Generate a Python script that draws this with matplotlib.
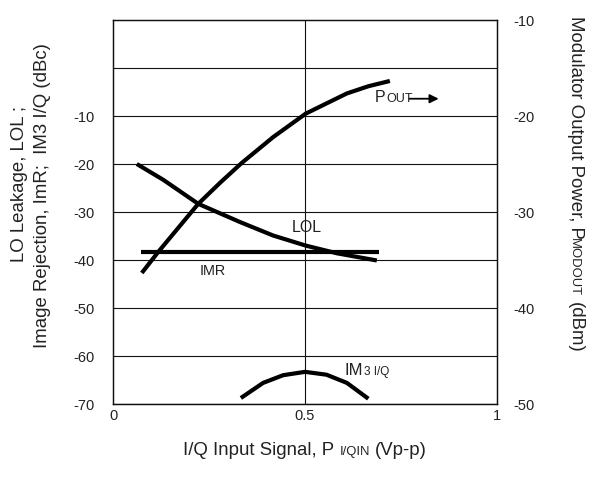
import matplotlib
matplotlib.use('Agg')
import matplotlib.pyplot as plt

plt.rcParams['font.family'] = ['Liberation Sans', 'DejaVu Sans']
plt.rcParams['axes.unicode_minus'] = False
TXT = '#222222'

# I/Q input signal, Vp-p
x_ticks = [0, 0.5, 1]
x_ticklabels = ['0', '0.5', '1']
left_ticks = [-70, -60, -50, -40, -30, -20, -10, 0]
left_ticklabels = ['-70', '-60', '-50', '-40', '-30', '-20', '-10', '']
right_ticks = [-50, -40, -30, -20, -10]

# LO leakage (dBc)
lol_x = [0.062, 0.131, 0.222, 0.331, 0.417, 0.502, 0.583, 0.687]
lol_y = [-20.0, -23.3, -28.3, -32.1, -34.9, -37.0, -38.6, -40.1]
# image rejection (dBc)
imr_x = [0.073, 0.693]
imr_y = [-38.3, -38.3]
# IM3 I/Q (dBc)
im3_x = [0.333, 0.391, 0.443, 0.50, 0.556, 0.609, 0.665]
im3_y = [-68.75, -65.6, -64.0, -63.3, -63.9, -65.6, -68.9]
# modulator output power (dBm, right axis)
pout_x = [0.075, 0.118, 0.170, 0.222, 0.279, 0.335, 0.417, 0.502, 0.609, 0.665, 0.721]
pout_y = [-36.35, -34.15, -31.65, -29.15, -26.95, -24.9, -22.2, -19.75, -17.65, -16.9, -16.35]

W, H = 590, 479
fig = plt.figure(figsize=(W / 100, H / 100), dpi=100)
ax = fig.add_axes([113 / W, 1 - 404 / H, 384 / W, 384 / H])
ax2 = ax.twinx()

ax.set_xlim(0, 1)
ax.set_ylim(-70, 10)
ax2.set_ylim(-50, -10)
ax.set_xticks(x_ticks)
ax.set_xticklabels(x_ticklabels)
ax.set_yticks(left_ticks)
ax.set_yticklabels(left_ticklabels)
ax2.set_yticks(right_ticks)
ax.tick_params(axis='x', length=0, pad=3.6, labelsize=10.5, labelcolor=TXT)
ax.tick_params(axis='y', length=0, pad=13, labelsize=10.5, labelcolor=TXT)
ax2.tick_params(axis='y', length=0, pad=11.5, labelsize=10.5, labelcolor=TXT)

for a in (ax, ax2):
    for s in a.spines.values():
        s.set_linewidth(0.9)
        s.set_color('#111111')

for v in left_ticks:
    ax.axhline(v, color='#111111', lw=0.8, zorder=1)
ax.axvline(0.5, color='#111111', lw=0.8, zorder=1)

line_kw = dict(color='k', lw=3, solid_capstyle='butt', solid_joinstyle='round', zorder=3)
ax.plot(lol_x, lol_y, **line_kw)
ax.plot(imr_x, imr_y, **line_kw)
ax.plot(im3_x, im3_y, **line_kw)
ax2.plot(pout_x, pout_y, **line_kw)

ax.text(0.505, -33.3, 'LOL', ha='center', va='center', fontsize=11.5, color=TXT)
ax.text(0.26, -42.3, 'IMR', ha='center', va='center', fontsize=10.4, color=TXT)

renderer = fig.canvas.get_renderer()


def text_width(s, size):
    t = fig.text(0, 0, s, fontsize=size)
    w = t.get_window_extent(renderer).width
    t.remove()
    return w


def pieces(parts, x, y, rotation=0, center=False):
    # parts: (text, size, gap_before_px); x, y in image pixels (baseline anchor)
    total = sum(text_width(s, sz) + g for s, sz, g in parts)
    if center:
        if rotation == 0:
            x -= total / 2
        else:
            y -= total / 2
    for s, sz, g in parts:
        if rotation == 0:
            x += g
        else:
            y += g
        fig.text(x / W, 1 - y / H, s, fontsize=sz, color=TXT, rotation=rotation,
                 ha='left', va='baseline', rotation_mode='anchor')
        w = text_width(s, sz)
        if rotation == 0:
            x += w
        else:
            y += w


# curve labels with small caps
pieces([('P', 11.5, 0), ('OUT', 9, 0.5)], 375, 102)
pieces([('IM', 12, 0), ('3 I/Q', 8.5, 0)], 345, 375)
ax.annotate('', xy=(0.848, -6.4), xytext=(0.772, -6.4),
            arrowprops=dict(arrowstyle='-|>', color='k', lw=1.3,
                            mutation_scale=13, shrinkA=0, shrinkB=0))

# axis titles
pieces([('I/Q Input Signal, P', 13.4, 0), ('I/QIN', 9.4, 5), ('(Vp-p)', 13.4, 5)],
       305, 455, center=True)
pieces([('Modulator Output Power, P', 13.4, 0), ('MODOUT', 9.4, 0), ('(dBm)', 13.4, 5)],
       571, 184, rotation=270, center=True)
fig.text(20 / W, 1 - 184 / H, 'LO Leakage, LOL ;', rotation=90, ha='center',
         va='center', fontsize=13.4, color=TXT)
fig.text(43 / W, 1 - 196 / H, 'Image Rejection, ImR;  IM3 I/Q (dBc)', rotation=90,
         ha='center', va='center', fontsize=13.4, color=TXT)

fig.savefig('out.png', dpi=100)
